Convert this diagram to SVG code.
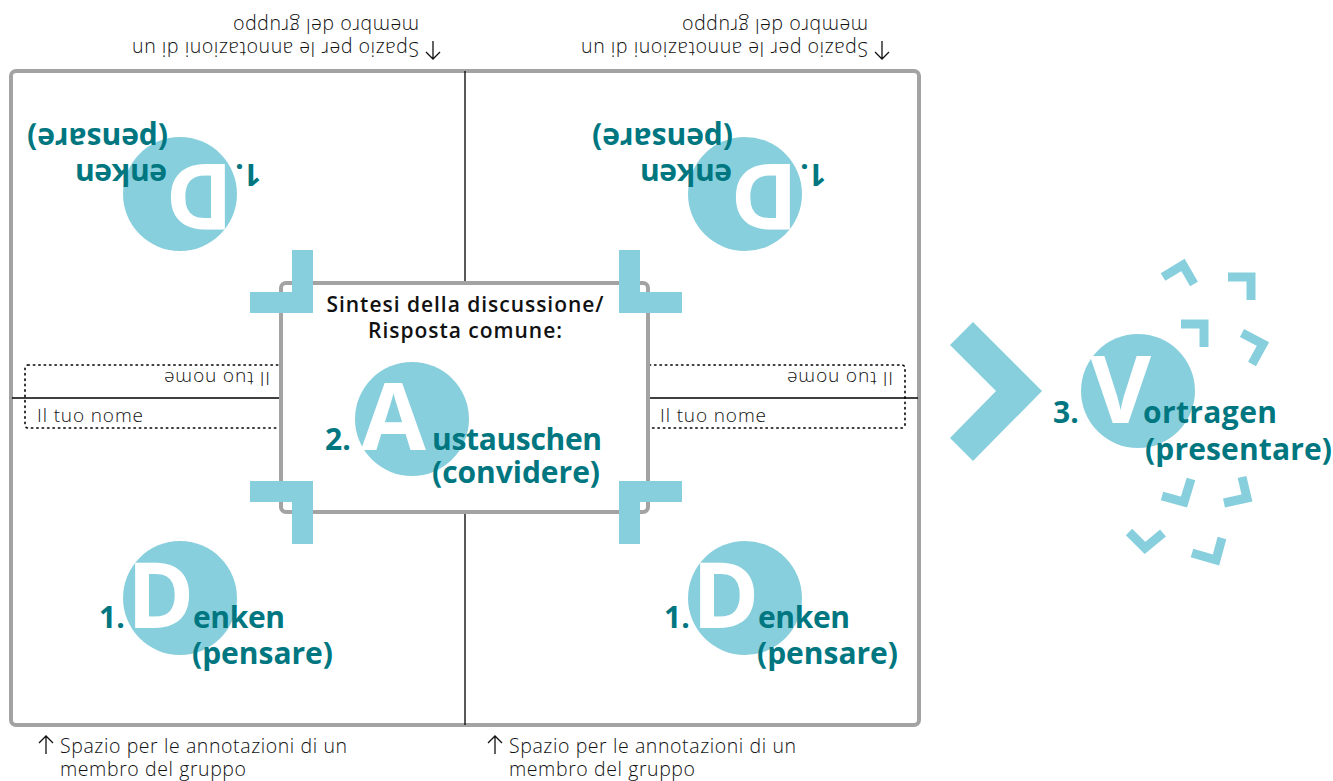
<svg xmlns="http://www.w3.org/2000/svg" width="1333" height="781" viewBox="0 0 1333 781">
<style>
.frame{fill:#fff;stroke:#a3a3a3;stroke-width:4}
.div{stroke:#000;stroke-width:1.3;fill:none}
.dots{fill:none;stroke:#000;stroke-width:1.6;stroke-dasharray:1.4 4;stroke-linecap:round}
.blue{fill:#88cfdd}
.bk{fill:none;stroke:#88cfdd;stroke-width:9;stroke-linejoin:miter;stroke-linecap:butt}
.t{font-family:"Open Sans","Noto Sans",sans-serif;font-weight:700;font-size:30px;fill:#007780}
.big{font-family:"Open Sans","Noto Sans",sans-serif;font-weight:700;fill:#fff}
.hd{font-family:"Open Sans","Noto Sans",sans-serif;font-weight:600;font-size:21px;fill:#111;text-anchor:middle}
.an{font-family:"Open Sans","Noto Sans",sans-serif;font-weight:300;font-size:19.5px;fill:#111}
.nm{font-family:"Open Sans","Noto Sans",sans-serif;font-weight:300;font-size:19px;fill:#111}
.arr{fill:none;stroke:#111;stroke-width:1.3}
</style>
<defs>
<g id="annot">
<path class="arr" d="M46 754V736M39 743L46 736L53 743"/>
<text class="an" x="60" y="753" textLength="287">Spazio per le annotazioni di un</text>
<text class="an" x="60" y="776" textLength="186">membro del gruppo</text>
</g>
<g id="dgrp">
<circle class="blue" cx="0" cy="0" r="57"/>
<text class="big" x="-53" y="30" font-size="91">D</text>
<text class="t" x="-81" y="30">1.</text>
<text class="t" x="13" y="30" textLength="92">enken</text>
<text class="t" x="12" y="66" textLength="141">(pensare)</text>
</g>
</defs>

<g id="frame">
<rect class="frame" x="11" y="71" width="908" height="654" rx="5"/>
</g>

<g id="connectors">
<line class="div" x1="465" y1="71" x2="465" y2="725"/>
<line class="div" x1="12" y1="398" x2="918" y2="398"/>
<polygon class="blue" points="950,345 973,322 1042,391 973,461 950,438 996,391"/>
</g>

<g id="name-left">
<rect class="dots" x="25" y="365" width="275" height="63" rx="3"/>
<text class="nm" x="37" y="422" textLength="106">Il tuo nome</text>
<text class="nm" x="37" y="422" textLength="106" transform="rotate(180 153.5 397)">Il tuo nome</text>
</g>
<g id="name-right">
<rect class="dots" x="630" y="365" width="275" height="63" rx="3"/>
<text class="nm" x="660" y="422" textLength="106">Il tuo nome</text>
<text class="nm" x="660" y="422" textLength="106" transform="rotate(180 776.5 397)">Il tuo nome</text>
</g>

<g id="annot-bl"><use href="#annot"/></g>
<g id="annot-br"><use href="#annot" transform="translate(449 0)"/></g>
<g id="annot-tl"><use href="#annot" transform="rotate(180 239.5 397.5)"/></g>
<g id="annot-tr"><use href="#annot" transform="translate(449 0) rotate(180 239.5 397.5)"/></g>

<g id="denken-bl"><use href="#dgrp" transform="translate(180 598)"/></g>
<g id="denken-br"><use href="#dgrp" transform="translate(745 598)"/></g>
<g id="denken-tl"><use href="#dgrp" transform="translate(180 194) rotate(180)"/></g>
<g id="denken-tr"><use href="#dgrp" transform="translate(745 194) rotate(180)"/></g>

<g id="austauschen">
<rect class="frame" x="281" y="283" width="367" height="229" rx="5"/>
<text class="hd" x="465" y="312" textLength="277">Sintesi della discussione/</text>
<text class="hd" x="465" y="338" textLength="194">Risposta comune:</text>
<circle class="blue" cx="412" cy="419" r="57"/>
<text class="big" x="361" y="450" font-size="94">A</text>
<text class="t" x="325" y="450">2.</text>
<text class="t" x="432" y="450" textLength="170">ustauschen</text>
<text class="t" x="432" y="483" textLength="168">(convidere)</text>
<path class="blue" d="M292 250H313V313H250V292H292Z"/>
<path class="blue" d="M619 250H640V292H682V313H619Z"/>
<path class="blue" d="M250 481H313V544H292V502H250Z"/>
<path class="blue" d="M619 481H682V502H640V544H619Z"/>
</g>

<g id="vortragen">
<circle class="blue" cx="1138" cy="391" r="57"/>
<text class="big" x="1090" y="423" font-size="94">V</text>
<text class="t" x="1053" y="423">3.</text>
<text class="t" x="1143" y="423" textLength="134">ortragen</text>
<text class="t" x="1145" y="460" textLength="187">(presentare)</text>
<polyline class="bk" points="1163,277 1183,265 1194,284"/>
<polyline class="bk" points="1228,277 1251,277 1251,300"/>
<polyline class="bk" points="1181,324 1204,324 1204,347"/>
<polyline class="bk" points="1242,333 1263,344 1252,364"/>
<polyline class="bk" points="1162,496 1184,502 1191,479"/>
<polyline class="bk" points="1224,503 1247,498 1242,477"/>
<polyline class="bk" points="1129,532 1145,548 1163,533"/>
<polyline class="bk" points="1192,553 1216,560 1222,538"/>
</g>
</svg>
